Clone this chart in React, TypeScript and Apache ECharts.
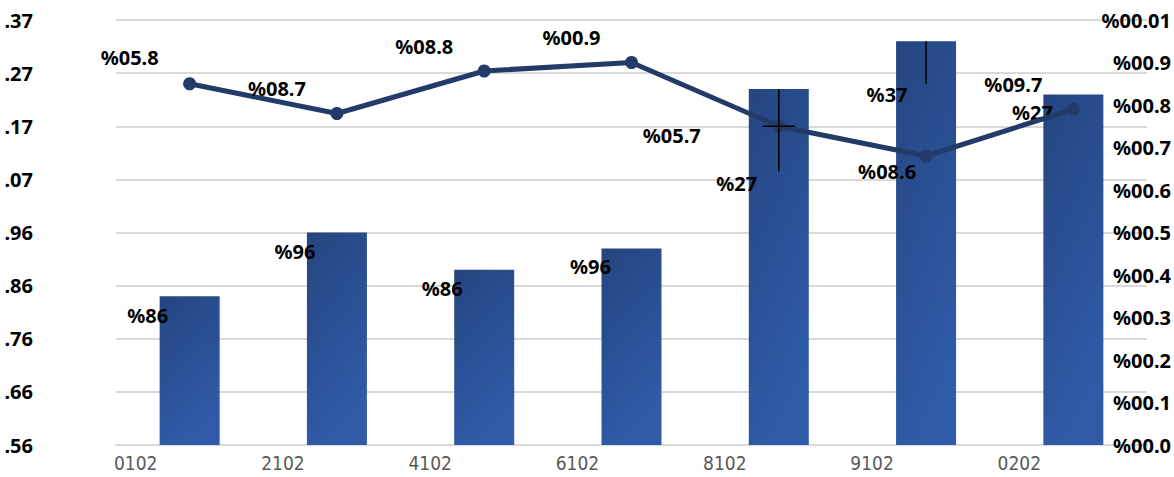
import React, { useEffect, useRef } from "react";
import * as echarts from "echarts";

const categories = ["0102", "2102", "4102", "6102", "8102", "9102", "0202"];
const barValues = [67.8, 69.0, 68.3, 68.7, 71.7, 72.6, 71.6];
const barLabels = ["%86", "%96", "%86", "%96", "%27", "%37", "%27"];
const lineValues = [8.5, 7.8, 8.8, 9.0, 7.5, 6.8, 7.9];
const lineLabels = ["%05.8", "%08.7", "%08.8", "%00.9", "%05.7", "%08.6", "%09.7"];
const leftTicks = [".56", ".66", ".76", ".86", ".96", ".07", ".17", ".27", ".37"];
const rightTicks = ["%00.0", "%00.1", "%00.2", "%00.3", "%00.4", "%00.5", "%00.6", "%00.7", "%00.8", "%00.9", "%00.01"];
// error bars: [category index, high, low, cross-mark value or null]
const errorBars = [
  [4, 71.7, 70.15, 71.0],
  [5, 72.6, 71.8, null],
];

// label offsets relative to the mark (style only)
const barLabelOffsets = [[-42, 19], [-42, 19], [-42, 19], [-41, 18], [-42, 94], [-39, 53], [-41, 18]];
const lineLabelOffsets = [[-60, -28], [-60, -27], [-60, -26], [-60, -27], [-107, 8], [-39, 14], [-60, -26]];

const FONT = "'Noto Sans', 'Liberation Sans', sans-serif";

export default function App() {
  const ref = useRef<HTMLDivElement>(null);
  useEffect(() => {
    if (!ref.current) return;
    const chart = echarts.init(ref.current, null, { renderer: "svg" });
    const labelStyle = {
      fontFamily: FONT,
      fontWeight: "bold" as const,
      fontSize: 20,
      color: "#000",
    };
    chart.setOption({
      animation: false,
      backgroundColor: "#fff",
      grid: { left: 116, right: 27, top: 20, bottom: 32 },
      xAxis: {
        type: "category",
        data: categories,
        axisLine: { lineStyle: { color: "#D9D9D9", width: 2 } },
        axisTick: { show: false },
        axisLabel: {
          color: "#595959",
          fontSize: 19,
          fontFamily: "'Liberation Sans Narrow', 'DejaVu Sans Condensed', sans-serif",
          margin: 8,
          padding: [0, 108, 0, 0],
        },
      },
      yAxis: [
        {
          type: "value",
          min: 65,
          max: 73,
          interval: 1,
          splitLine: { lineStyle: { color: "#D9D9D9", width: 2 } },
          axisLine: { show: false },
          axisTick: { show: false },
          axisLabel: {
            ...labelStyle,
            margin: 83,
            formatter: (v: number) => leftTicks[Math.round(v - 65)] ?? "",
          },
        },
        {
          type: "value",
          min: 0,
          max: 10,
          interval: 1,
          splitLine: { show: false },
          axisLine: { show: false },
          axisTick: { show: false },
          axisLabel: {
            ...labelStyle,
            align: "right",
            margin: 24,
            formatter: (v: number) => rightTicks[Math.round(v)] ?? "",
          },
        },
      ],
      series: [
        {
          type: "bar",
          yAxisIndex: 0,
          barWidth: 60,
          z: 2,
          data: barValues.map((v, i) => ({
            value: v,
            label: {
              show: true,
              position: "top",
              offset: [barLabelOffsets[i][0], barLabelOffsets[i][1] + 15],
              formatter: () => barLabels[i],
              ...labelStyle,
            },
          })),
          itemStyle: {
            color: new echarts.graphic.LinearGradient(0, 0, 0.35, 1, [
              { offset: 0, color: "#25457F" },
              { offset: 1, color: "#2F5BA8" },
            ]),
          },
        },
        {
          type: "line",
          yAxisIndex: 1,
          z: 4,
          symbol: "circle",
          symbolSize: 13,
          lineStyle: { color: "#223B68", width: 5 },
          itemStyle: { color: "#223B68" },
          data: lineValues.map((v, i) => ({
            value: v,
            label: {
              show: true,
              position: "top",
              offset: [lineLabelOffsets[i][0], lineLabelOffsets[i][1] + 23],
              formatter: () => lineLabels[i],
              ...labelStyle,
            },
          })),
        },
        {
          type: "custom",
          yAxisIndex: 0,
          z: 6,
          silent: true,
          data: errorBars,
          renderItem: (params: any, api: any) => {
            const x = api.value(0);
            const hi = api.coord([x, api.value(1)]);
            const lo = api.coord([x, api.value(2)]);
            const children: any[] = [
              {
                type: "line",
                shape: { x1: hi[0], y1: hi[1], x2: lo[0], y2: lo[1] },
                style: { stroke: "#000", lineWidth: 1.5 },
              },
            ];
            const midV = errorBars[params.dataIndex][3];
            if (midV != null) {
              const m = api.coord([x, midV]);
              children.push({
                type: "line",
                shape: { x1: m[0] - 16, y1: m[1], x2: m[0] + 16, y2: m[1] },
                style: { stroke: "#000", lineWidth: 1.5 },
              });
            }
            return { type: "group", children };
          },
        },
      ],
    });
    return () => chart.dispose();
  }, []);
  return (
    <div
      ref={ref}
      style={{ position: "absolute", left: 0, top: 0, width: 1174, height: 477 }}
    />
  );
}
